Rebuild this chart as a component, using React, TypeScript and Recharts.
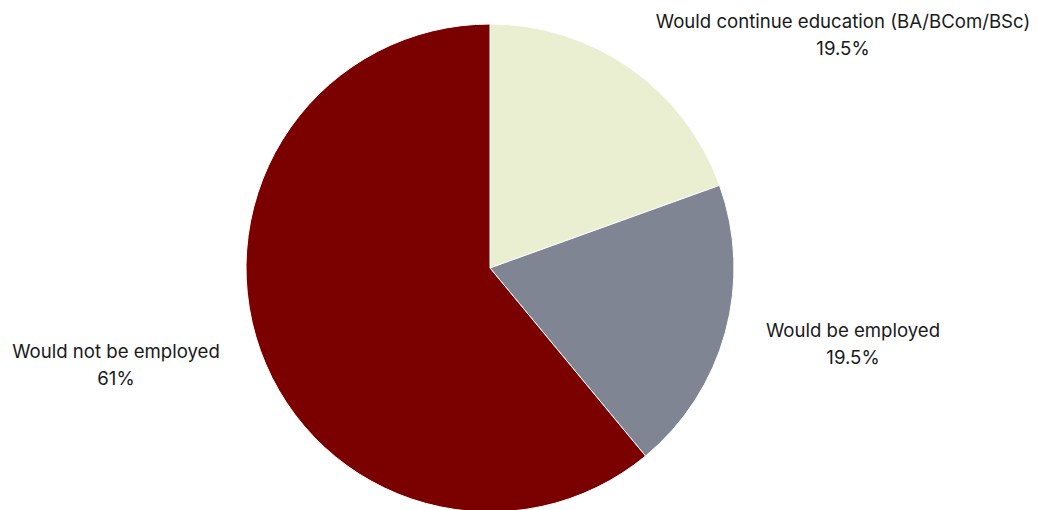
import { PieChart, Pie, Cell } from "recharts";

const categories = [
  "Would continue education (BA/BCom/BSc)",
  "Would be employed",
  "Would not be employed",
];
const shares = [19.5, 19.5, 61];
const shareLabels = ["19.5%", "19.5%", "61%"];

const COLORS = ["#e9efd0", "#7f8592", "#7b0000"];
// label offsets from the pie centre
const LABEL_OFFSETS = [
  { dx: 353, dy: -240 },
  { dx: 363, dy: 69 },
  { dx: -374, dy: 90 },
];

const data = categories.map((name, i) => ({ name, value: shares[i] }));

function renderLabel(props: any) {
  const { cx, cy, index } = props;
  const o = LABEL_OFFSETS[index];
  const x = cx + o.dx;
  const y = cy + o.dy;
  return (
    <text
      x={x}
      y={y}
      textAnchor="middle"
      fill="#1a1a1a"
      fontSize={18.6}
      fontFamily="Inter, sans-serif"
    >
      <tspan x={x} dy={0}>{categories[index]}</tspan>
      <tspan x={x} dy={27}>{shareLabels[index]}</tspan>
    </text>
  );
}

export default function App() {
  return (
    <div style={{ position: "fixed", left: 0, top: 0, background: "#fff" }}>
      <PieChart width={1038} height={510}>
        <Pie
          data={data}
          dataKey="value"
          nameKey="name"
          cx={485}
          cy={263}
          outerRadius={244}
          startAngle={90}
          endAngle={-270}
          stroke="#fff"
          strokeWidth={1}
          label={renderLabel}
          labelLine={false}
          isAnimationActive={false}
        >
          {data.map((d, i) => (
            <Cell key={d.name} fill={COLORS[i]} />
          ))}
        </Pie>
      </PieChart>
    </div>
  );
}
